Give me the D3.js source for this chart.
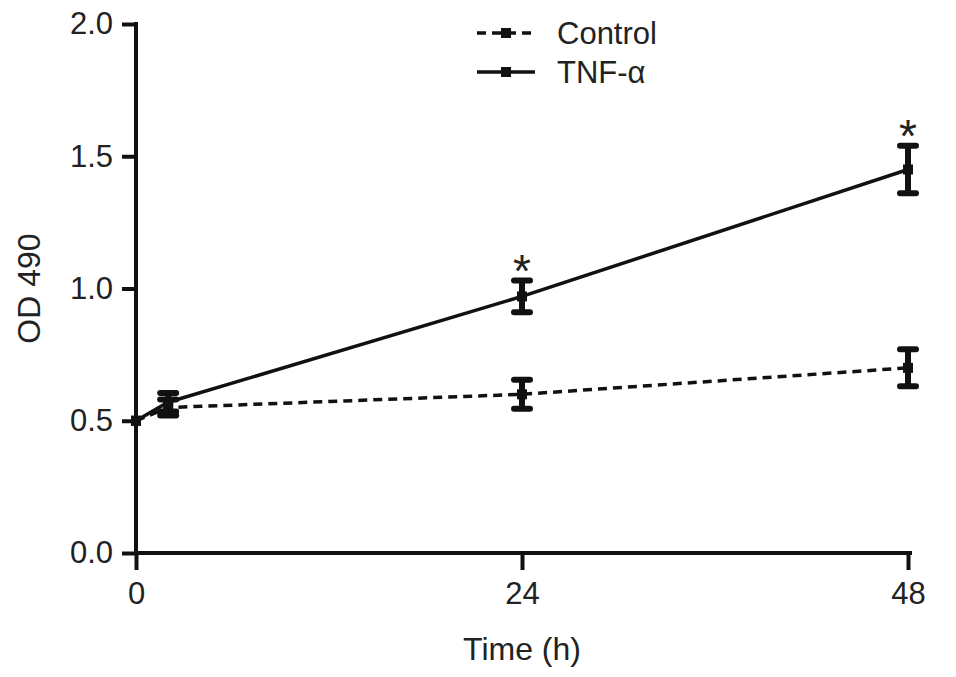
<!DOCTYPE html>
<html>
<head>
<meta charset="utf-8">
<script src="https://cdn.jsdelivr.net/npm/d3@7"></script>
<style>
  body { margin: 0; background: #fff; }
  text { font-family: Arial, "Liberation Sans", Helvetica, sans-serif; fill: #222; }
</style>
</head>
<body>
<div id="chart"></div>
<script>
// data
const hours = [0, 2, 24, 48];
const controlMean = [0.50, 0.55, 0.60, 0.70];
const controlErr = [0, 0.03, 0.055, 0.07];
const tnfMean = [0.50, 0.57, 0.97, 1.45];
const tnfErr = [0, 0.035, 0.06, 0.09];
const signif = [false, false, true, true];
const xTicks = [0, 24, 48];
const yTicks = [0, 0.5, 1.0, 1.5, 2.0];
const seriesNames = ['Control', 'TNF-\u03b1'];

document.addEventListener('DOMContentLoaded', function(){
  drawChart();
});

function drawChart(){
  const W = 956, H = 677;
  const margin = { top: 24, right: 48, bottom: 124, left: 136 };

  const svg = d3.select('#chart')
                .append('svg')
                .attr('width', W)
                .attr('height', H);

  const x = d3.scaleLinear()
              .domain([0, 48])
              .range([margin.left, 908]);
  const y = d3.scaleLinear()
              .domain([0, 2])
              .range([553, margin.top]);

  // axes
  const yAxis = svg.append('g')
                   .attr('transform', `translate(${x(0)},0)`)
                   .call(d3.axisLeft(y).tickValues(yTicks).tickFormat(d3.format('.1f')).tickSize(14).tickPadding(9));
  const xAxis = svg.append('g')
                   .attr('transform', `translate(0,${y(0)})`)
                   .call(d3.axisBottom(x).tickValues(xTicks).tickSize(17).tickPadding(12));

  [xAxis, yAxis].forEach(function(ax){
    ax.select('.domain').attr('stroke', '#111').attr('stroke-width', 4);
    ax.selectAll('.tick line').attr('stroke', '#111').attr('stroke-width', 4);
    ax.selectAll('.tick text').style('font-size', '31px').attr('fill', '#222');
  });
  // domain paths without outer ticks
  xAxis.select('.domain').attr('d', `M${x(0) - 2},0H${x(48) + 4}`);
  yAxis.select('.domain').attr('d', `M0,${y(2) - 2}V${y(0)}`);

  // axis titles
  svg.append('text')
     .attr('x', x(24))
     .attr('y', 660)
     .attr('text-anchor', 'middle')
     .style('font-size', '32px')
     .text('Time (h)');
  svg.append('text')
     .attr('transform', `translate(40,${y(1)}) rotate(-90)`)
     .attr('text-anchor', 'middle')
     .style('font-size', '32px')
     .text('OD 490');

  const line = d3.line()
                 .x((d, i) => x(hours[i]))
                 .y(d => y(d));

  const series = [
    { name: seriesNames[0], mean: controlMean, err: controlErr, dash: '9,6' },
    { name: seriesNames[1], mean: tnfMean, err: tnfErr, dash: null }
  ];

  series.forEach(function(s){
    svg.append('path')
       .datum(s.mean)
       .attr('d', line)
       .attr('fill', 'none')
       .attr('stroke', '#111')
       .attr('stroke-width', 3.5)
       .attr('stroke-dasharray', s.dash);

    const g = svg.append('g');
    s.mean.forEach(function(m, i){
      const cx = x(hours[i]);
      const e = s.err[i];
      if (e > 0) {
        g.append('line')
         .attr('x1', cx).attr('x2', cx)
         .attr('y1', y(m + e)).attr('y2', y(m - e))
         .attr('stroke', '#111').attr('stroke-width', 6);
        [m + e, m - e].forEach(function(v){
          g.append('line')
           .attr('x1', cx - 8).attr('x2', cx + 8)
           .attr('y1', y(v)).attr('y2', y(v))
           .attr('stroke', '#111').attr('stroke-width', 6)
           .attr('stroke-linecap', 'round');
        });
      }
      g.append('rect')
       .attr('x', cx - 5).attr('y', y(m) - 5)
       .attr('width', 10).attr('height', 10)
       .attr('fill', '#111');
    });
  });

  // significance marks
  hours.forEach(function(h, i){
    if (!signif[i]) return;
    svg.append('text')
       .attr('x', x(h))
       .attr('y', y(tnfMean[i] + tnfErr[i]) + 6)
       .attr('text-anchor', 'middle')
       .style('font-size', '46px')
       .text('*');
  });

  // legend
  const legend = svg.append('g').attr('transform', 'translate(477,33)');
  series.forEach(function(s, i){
    const row = legend.append('g').attr('transform', `translate(0,${i * 39})`);
    row.append('line')
       .attr('x1', 0).attr('x2', 58)
       .attr('y1', 0).attr('y2', 0)
       .attr('stroke', '#111').attr('stroke-width', 3.5)
       .attr('stroke-dasharray', s.dash);
    row.append('rect')
       .attr('x', 24).attr('y', -5)
       .attr('width', 10).attr('height', 10)
       .attr('fill', '#111');
    row.append('text')
       .attr('x', 80)
       .attr('y', 11)
       .style('font-size', '31px')
       .text(s.name);
  });
}
</script>
</body>
</html>
